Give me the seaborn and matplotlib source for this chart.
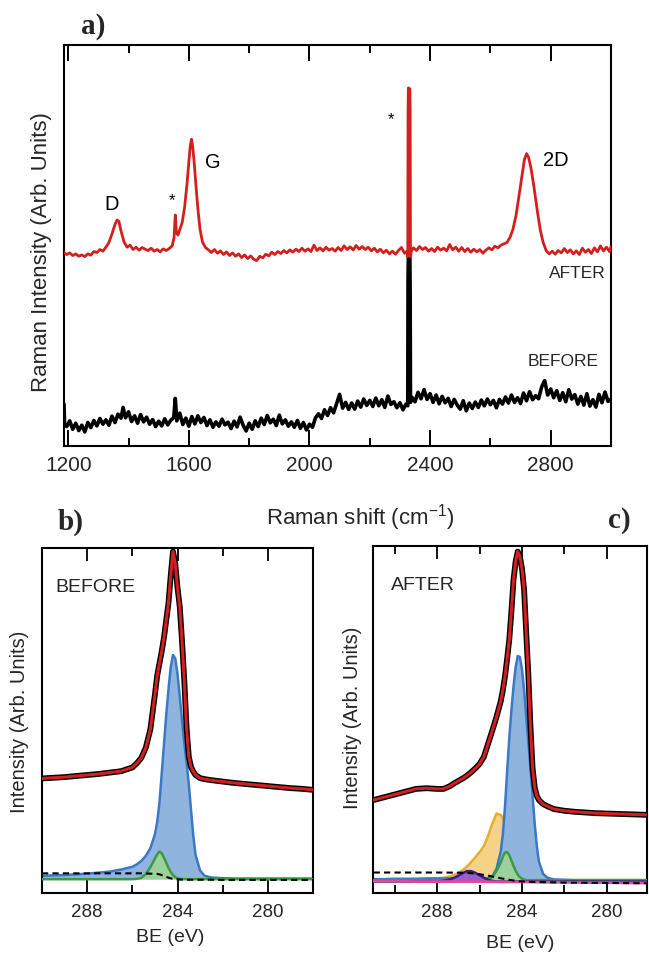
import numpy as np
import matplotlib
matplotlib.use("Agg")
import matplotlib.pyplot as plt
import seaborn as sns
from matplotlib.ticker import MultipleLocator

# ---------------- DATA ----------------
# Panel a: Raman spectra (arbitrary units)
raman_x_after = [1186, 1195, 1205, 1215, 1225, 1235, 1245, 1255, 1265, 1275, 1285, 1295, 1305, 1315,
                 1325, 1335, 1345, 1355, 1362, 1368, 1375, 1385, 1395, 1405, 1415, 1425, 1435, 1445,
                 1455, 1465, 1475, 1485, 1495, 1505, 1515, 1525, 1535, 1545, 1551, 1555, 1559, 1564,
                 1570, 1578, 1586, 1594, 1600, 1605, 1609, 1613, 1618, 1624, 1630, 1637, 1645, 1655,
                 1665, 1675, 1685, 1695, 1705, 1715, 1725, 1735, 1745, 1755, 1765, 1775, 1785, 1795,
                 1805, 1815, 1825, 1835, 1845, 1855, 1865, 1875, 1885, 1895, 1905, 1915, 1925, 1935,
                 1945, 1955, 1965, 1975, 1985, 1995, 2005, 2015, 2025, 2035, 2045, 2055, 2065, 2075,
                 2085, 2095, 2105, 2115, 2125, 2135, 2145, 2155, 2165, 2175, 2185, 2195, 2205, 2215,
                 2225, 2235, 2245, 2255, 2265, 2275, 2285, 2295, 2305, 2315, 2322, 2326, 2327, 2328,
                 2333, 2334, 2335, 2338, 2345, 2355, 2365, 2375, 2385, 2395, 2405, 2415, 2425, 2435,
                 2445, 2455, 2465, 2475, 2485, 2495, 2505, 2515, 2525, 2535, 2545, 2555, 2565, 2575,
                 2585, 2595, 2605, 2615, 2625, 2635, 2645, 2655, 2665, 2675, 2685, 2695, 2705, 2713,
                 2720, 2727, 2735, 2743, 2750, 2758, 2766, 2775, 2785, 2795, 2805, 2815, 2825, 2835,
                 2845, 2855, 2865, 2875, 2885, 2895, 2905, 2915, 2925, 2935, 2945, 2955, 2965, 2975,
                 2985, 2995, 3000]
raman_y_after = [38.0, 37.4, 37.9, 37.1, 37.6, 36.9, 37.3, 36.8, 37.6, 37.2, 38.3, 38.0, 38.9, 38.4,
                 39.6, 41.0, 43.5, 46.4, 47.7, 47.3, 44.5, 41.2, 39.6, 40.2, 38.9, 39.6, 38.7, 39.5,
                 39.0, 38.6, 39.3, 38.4, 38.9, 38.2, 39.1, 38.6, 39.2, 40.0, 42.5, 49.2, 44.0, 43.2,
                 44.8, 47.0, 51.5, 58.5, 65.0, 70.0, 71.8, 69.5, 64.5, 57.5, 51.0, 45.0, 41.2, 39.5,
                 38.8, 38.0, 38.9, 37.8, 38.5, 37.4, 38.2, 37.1, 37.9, 36.9, 37.6, 36.5, 37.3, 36.2,
                 37.0, 36.0, 35.6, 36.9, 36.4, 37.5, 37.0, 38.1, 37.4, 38.3, 37.7, 38.6, 37.9, 38.8,
                 38.1, 39.0, 38.3, 39.3, 38.4, 39.1, 38.3, 40.2, 38.6, 39.4, 38.5, 39.6, 38.7, 39.2,
                 38.4, 39.5, 38.6, 40.0, 38.9, 39.7, 38.8, 40.1, 39.0, 39.8, 38.9, 39.6, 38.5, 39.3,
                 38.2, 39.0, 37.9, 38.7, 37.6, 38.4, 37.5, 38.6, 39.5, 37.8, 38.3, 36.8, 80.0, 87.1,
                 86.8, 80.0, 36.8, 38.5, 39.4, 38.6, 39.8, 38.9, 39.5, 38.4, 39.2, 38.3, 39.6, 38.7,
                 39.3, 38.5, 40.4, 38.8, 39.6, 38.4, 39.5, 38.3, 39.2, 38.1, 39.0, 38.2, 38.9, 37.8,
                 38.7, 39.4, 38.8, 39.9, 39.4, 40.2, 40.6, 41.0, 42.5, 45.0, 49.0, 55.0, 61.0, 65.8,
                 67.5, 66.3, 63.0, 58.5, 54.0, 49.0, 44.5, 41.0, 38.6, 37.6, 38.4, 37.5, 38.6, 37.9,
                 39.2, 38.0, 38.8, 37.6, 38.5, 37.4, 39.3, 38.1, 38.9, 37.7, 39.4, 38.2, 40.0, 38.5,
                 39.6, 38.3, 39.8]

raman_x_before = [1186, 1188, 1195, 1205, 1215, 1225, 1235, 1245, 1255, 1265, 1275, 1285, 1295, 1305,
                  1315, 1325, 1335, 1345, 1355, 1365, 1375, 1382, 1390, 1400, 1410, 1420, 1430, 1440,
                  1450, 1460, 1470, 1480, 1490, 1500, 1510, 1520, 1530, 1540, 1550, 1555, 1560, 1570,
                  1580, 1590, 1600, 1610, 1620, 1630, 1640, 1650, 1660, 1670, 1680, 1690, 1700, 1710,
                  1720, 1730, 1740, 1750, 1760, 1770, 1780, 1790, 1800, 1810, 1820, 1830, 1840, 1850,
                  1860, 1870, 1880, 1890, 1900, 1910, 1920, 1930, 1940, 1950, 1960, 1970, 1980, 1990,
                  2000, 2010, 2020, 2030, 2040, 2050, 2060, 2070, 2080, 2090, 2100, 2110, 2120, 2130,
                  2140, 2150, 2160, 2170, 2180, 2190, 2200, 2210, 2220, 2230, 2240, 2250, 2260, 2270,
                  2280, 2290, 2300, 2310, 2320, 2326, 2327, 2328, 2333, 2334, 2335, 2340, 2350, 2360,
                  2370, 2380, 2390, 2400, 2410, 2420, 2430, 2440, 2450, 2460, 2470, 2480, 2490, 2500,
                  2510, 2520, 2530, 2540, 2550, 2560, 2570, 2580, 2590, 2600, 2610, 2620, 2630, 2640,
                  2650, 2660, 2670, 2680, 2690, 2700, 2710, 2720, 2730, 2740, 2750, 2760, 2770, 2780,
                  2790, 2800, 2810, 2820, 2830, 2840, 2850, 2860, 2870, 2880, 2890, 2900, 2910, 2920,
                  2930, 2940, 2950, 2960, 2970, 2980, 2990, 3000]
raman_y_before = [12.5, 6.5, 5.8, 7.5, 5.0, 6.8, 4.6, 6.2, 4.2, 7.0, 5.5, 7.6, 6.0, 8.2,
                  6.5, 7.8, 6.2, 8.9, 7.0, 9.5, 8.3, 11.5, 8.4, 10.2, 7.3, 9.0, 6.8, 9.4,
                  7.2, 8.6, 6.5, 7.9, 5.8, 7.4, 6.0, 8.1, 6.3, 7.7, 8.5, 14.2, 7.5, 9.8,
                  6.4, 8.3, 5.9, 8.8, 6.6, 9.0, 7.0, 8.5, 6.1, 7.8, 5.6, 7.2, 5.9, 8.0,
                  6.3, 7.1, 5.2, 7.4, 5.7, 8.6, 6.2, 4.5, 6.8, 5.0, 7.5, 5.8, 8.3, 6.4,
                  9.1, 6.9, 8.0, 6.1, 9.2, 6.6, 7.8, 5.9, 7.2, 5.6, 7.6, 5.3, 7.0, 4.8,
                  6.5, 5.6, 8.4, 9.6, 8.2, 10.8, 9.1, 11.4, 9.9, 12.6, 15.4, 11.3, 13.0, 10.9,
                  12.8, 11.0, 13.4, 11.6, 14.0, 12.1, 13.6, 11.8, 14.3, 12.0, 13.8, 11.5, 14.9, 12.4,
                  13.2, 11.4, 12.9, 10.8, 12.5, 12.0, 50.0, 56.5, 56.0, 45.0, 13.0, 14.5, 13.2, 16.0,
                  14.1, 16.8, 13.9, 15.6, 13.0, 15.2, 12.6, 14.8, 12.9, 14.2, 11.8, 13.9, 12.2, 11.0,
                  13.5, 10.5, 12.8, 11.2, 13.1, 11.5, 13.7, 12.0, 14.0, 12.3, 13.6, 11.4, 13.9, 12.5,
                  14.6, 12.8, 15.2, 13.0, 14.4, 12.7, 15.8, 13.5, 16.2, 13.8, 15.0, 14.1, 17.6, 19.5,
                  15.2, 17.0, 14.4, 16.5, 13.6, 15.9, 13.2, 16.8, 14.0, 15.3, 12.5, 14.8, 12.2, 15.6,
                  11.9, 13.8, 11.6, 15.4, 12.9, 16.1, 13.3, 14.0]

raman_ticks = [1200, 1600, 2000, 2400, 2800]
peak_labels = ["D", "*", "G", "*", "2D"]
peak_label_x = [1344, 1543, 1679, 2271, 2816]

# Panel b: C1s XPS, BEFORE
be_b = [290.0, 289.5, 289.0, 288.5, 288.0, 287.5, 287.0, 286.5, 286.0, 285.8, 285.6, 285.4, 285.2,
        285.0, 284.9, 284.8, 284.7, 284.6, 284.5, 284.4, 284.3, 284.2, 284.1, 284.0, 283.9, 283.8,
        283.7, 283.6, 283.5, 283.4, 283.3, 283.2, 283.0, 282.8, 282.5, 282.0, 281.5, 281.0, 280.5,
        280.0, 279.5, 279.0, 278.5, 278.0]
env_b = [33.2, 33.4, 33.6, 33.9, 34.2, 34.5, 34.9, 35.3, 36.4, 37.6, 39.2, 42.2, 47.5,
         57.5, 63.0, 66.5, 70.0, 74.0, 79.0, 84.0, 92.0, 99.0, 95.5, 88.5, 83.0, 73.0,
         61.7, 48.0, 39.5, 36.5, 35.2, 34.2, 33.3, 33.0, 32.7, 32.3, 31.9, 31.6, 31.3,
         31.0, 30.7, 30.4, 30.2, 29.9]
csp2_b = [5.0, 5.1, 5.2, 5.4, 5.6, 5.9, 6.2, 6.8, 7.6, 8.3, 9.3, 10.8, 13.0,
          17.0, 20.5, 26.0, 34.5, 43.0, 51.5, 59.0, 65.5, 69.0, 68.0, 63.5, 57.0, 50.0,
          43.5, 38.0, 31.5, 24.0, 16.5, 11.0, 6.5, 5.0, 4.5, 4.3, 4.2, 4.2, 4.2,
          4.2, 4.2, 4.2, 4.2, 4.2]
csp3_b = [4.0, 4.0, 4.0, 4.0, 4.0, 4.0, 4.0, 4.0, 4.0, 4.1, 4.4, 5.5, 7.5,
          10.0, 11.2, 12.0, 11.5, 10.3, 8.8, 7.3, 6.1, 5.2, 4.6, 4.3, 4.1, 4.0,
          4.0, 4.0, 4.0, 4.0, 4.0, 4.0, 4.0, 4.0, 4.0, 4.0, 4.0, 4.0, 4.0,
          4.0, 4.0, 4.0, 4.0, 4.0]
bkg_b = [5.7, 5.7, 5.7, 5.7, 5.7, 5.7, 5.7, 5.7, 5.7, 5.7, 5.7, 5.65, 5.6,
         5.6, 5.55, 5.4, 5.2, 4.95, 4.7, 4.45, 4.25, 4.1, 4.0, 3.95, 3.9, 3.9,
         3.85, 3.85, 3.85, 3.85, 3.85, 3.85, 3.85, 3.85, 3.85, 3.8, 3.8, 3.8, 3.8,
         3.8, 3.8, 3.8, 3.8, 3.8]

# Panel c: C1s XPS, AFTER
be_c = [291.0, 290.5, 290.0, 289.5, 289.0, 288.5, 288.0, 287.7, 287.4, 287.2, 287.0, 286.8, 286.6,
        286.4, 286.2, 286.0, 285.8, 285.6, 285.4, 285.2, 285.0, 284.9, 284.8, 284.7, 284.6, 284.5,
        284.4, 284.3, 284.2, 284.1, 284.0, 283.9, 283.8, 283.7, 283.6, 283.5, 283.4, 283.3, 283.2,
        283.0, 282.8, 282.5, 282.0, 281.5, 281.0, 280.5, 280.0, 279.5, 279.0, 278.5, 278.0]
env_c = [26.8, 27.6, 28.4, 29.2, 30.0, 30.2, 30.0, 30.0, 30.8, 31.6, 32.3, 33.0, 33.8,
         34.8, 35.9, 37.2, 39.2, 43.0, 46.8, 50.8, 55.3, 58.5, 62.5, 67.5, 73.0, 81.0,
         90.2, 95.5, 98.4, 97.0, 93.5, 87.5, 75.0, 63.0, 48.0, 36.0, 30.5, 28.0, 26.8,
         25.6, 25.0, 24.2, 23.7, 23.4, 23.2, 23.0, 22.9, 22.8, 22.7, 22.6, 22.5]
csp2_c = [4.0, 4.0, 4.1, 4.1, 4.1, 4.2, 4.2, 4.2, 4.2, 4.2, 4.2, 4.2, 4.2,
          4.2, 4.2, 4.2, 4.2, 4.3, 4.8, 7.0, 12.0, 17.0, 25.0, 35.0, 44.5, 52.5,
          59.5, 65.0, 68.3, 68.0, 64.5, 58.5, 51.0, 43.5, 36.0, 28.0, 20.0, 13.5, 9.0,
          5.5, 4.4, 3.9, 3.8, 3.7, 3.7, 3.7, 3.7, 3.7, 3.7, 3.7, 3.7]
coh_c = [3.7, 3.7, 3.8, 3.8, 3.9, 4.0, 4.2, 4.4, 4.8, 5.2, 5.8, 6.6, 7.6,
         8.9, 10.3, 11.8, 13.5, 16.5, 20.0, 22.9, 22.5, 21.5, 20.0, 18.3, 16.5, 14.6,
         12.8, 11.0, 9.5, 8.2, 7.1, 6.2, 5.5, 5.0, 4.6, 4.3, 4.1, 4.0, 3.9,
         3.8, 3.7, 3.7, 3.7, 3.7, 3.7, 3.7, 3.7, 3.7, 3.7, 3.7, 3.7]
csp3_c = [3.7, 3.7, 3.7, 3.7, 3.7, 3.7, 3.7, 3.7, 3.7, 3.7, 3.7, 3.7, 3.7,
          3.7, 3.7, 3.7, 3.7, 3.9, 4.6, 6.4, 8.8, 10.5, 11.7, 11.8, 10.9, 9.4,
          7.8, 6.4, 5.3, 4.6, 4.1, 3.9, 3.7, 3.7, 3.7, 3.7, 3.7, 3.7, 3.7,
          3.7, 3.7, 3.7, 3.7, 3.7, 3.7, 3.7, 3.7, 3.7, 3.7, 3.7, 3.7]
co_c = [3.3, 3.3, 3.3, 3.3, 3.3, 3.3, 3.3, 3.5, 3.9, 4.4, 5.0, 5.7, 6.3,
        6.3, 5.8, 5.1, 4.4, 3.8, 3.5, 3.3, 3.3, 3.3, 3.3, 3.3, 3.3, 3.3,
        3.3, 3.3, 3.3, 3.3, 3.3, 3.3, 3.3, 3.3, 3.3, 3.3, 3.3, 3.3, 3.3,
        3.3, 3.3, 3.3, 3.3, 3.3, 3.3, 3.3, 3.3, 3.3, 3.3, 3.3, 3.3]
pink_x_c = [291, 290, 289, 288, 287, 286, 285, 284, 283, 282, 281, 280, 279, 278]
pink_y_c = [3.4, 3.4, 3.3, 3.3, 3.3, 3.3, 3.2, 3.2, 3.1, 3.1, 3.0, 3.0, 2.9, 2.9]
bkg_x_c = [291, 288, 286.8, 286.4, 286.0, 285.6, 285.2, 284.8, 284.4, 284.1, 283.5, 282, 280, 278]
bkg_y_c = [5.9, 5.9, 5.85, 5.7, 5.4, 5.0, 4.5, 4.0, 3.6, 3.35, 3.2, 3.0, 2.9, 2.8]

xps_ticks = [288, 284, 280]

# ---------------- STYLE / LAYOUT ----------------
sns.set_theme(style="ticks")
plt.rcParams["font.family"] = ["Liberation Sans", "DejaVu Sans"]
plt.rcParams["mathtext.fontset"] = "custom"
plt.rcParams["mathtext.rm"] = "Liberation Sans"
plt.rcParams["mathtext.it"] = "Liberation Sans:italic"

W, H = 649, 958
fig = plt.figure(figsize=(W / 100, H / 100), dpi=100)


def rect(l, t, r, b):
    return [l / W, 1 - b / H, (r - l) / W, (b - t) / H]


def ftxt(px, py, s, **kw):
    fig.text(px / W, 1 - py / H, s, **kw)


ax_a = fig.add_axes(rect(64, 45, 611, 446))
ax_b = fig.add_axes(rect(42, 548, 313, 893))
ax_c = fig.add_axes(rect(373, 546, 647, 893))

RED = "#d41f1f"
AFTER_OFFSET = 19.7

# ---- panel a ----
sns.lineplot(x=raman_x_before, y=raman_y_before, ax=ax_a, color="black", linewidth=2.6,
             sort=False, estimator=None, zorder=3)
sns.lineplot(x=raman_x_after, y=np.array(raman_y_after) + AFTER_OFFSET, ax=ax_a, color=RED,
             linewidth=2.0, sort=False, estimator=None, zorder=4)
ax_a.set_xlim(1186, 3000)
ax_a.set_ylim(0, 119.6)
ax_a.set_xticks(raman_ticks)
ax_a.xaxis.set_minor_locator(MultipleLocator(200))
ax_a.set_yticks([])
ax_a.tick_params(axis="x", which="both", direction="in", top=True, bottom=True,
                 width=1.4, color="black", labelsize=15, pad=7)
ax_a.tick_params(axis="x", which="major", length=11.5)
ax_a.tick_params(axis="x", which="minor", length=6)
ax_a.set_xlabel("")
ax_a.set_ylabel("")

tr = ax_a.get_xaxis_transform()
label_yfrac = [0.601, 0.612, 0.706, 0.815, 0.711]
label_size = [14.5, 12, 14.5, 12, 14.5]
for s, xv, yv, fs in zip(peak_labels, peak_label_x, label_yfrac, label_size):
    ax_a.text(xv, yv, s, transform=tr, ha="center", va="center", fontsize=fs, color="black")
ax_a.text(2983, 0.429, "AFTER", transform=tr, ha="right", va="center", fontsize=12.5)
ax_a.text(2958, 0.21, "BEFORE", transform=tr, ha="right", va="center", fontsize=12.5)


# ---- XPS panels ----
def component(ax, x, y, line, fill, z, lw=1.8):
    ax.fill_between(x, y, min(y), color=fill, linewidth=0, zorder=z)
    sns.lineplot(x=x, y=y, ax=ax, color=line, linewidth=lw, sort=False, estimator=None,
                 zorder=z + 0.5)


# b
component(ax_b, be_b, csp2_b, "#3b78c6", "#8fb5df", 2)
component(ax_b, be_b, csp3_b, "#3b9a44", "#9dd09b", 3)
sns.lineplot(x=be_b, y=bkg_b, ax=ax_b, color="black", linewidth=1.5, linestyle=(0, (3, 2)),
             sort=False, estimator=None, zorder=6)
sns.lineplot(x=be_b, y=env_b, ax=ax_b, color="black", linewidth=4.2, sort=False,
             estimator=None, zorder=8)
sns.lineplot(x=be_b, y=env_b, ax=ax_b, color=RED, linewidth=2.2, sort=False,
             estimator=None, zorder=9)
ax_b.set_xlim(290.0, 278.0)

# c
component(ax_c, be_c, coh_c, "#e8ad2e", "#f4d386", 1)
component(ax_c, be_c, csp2_c, "#3b78c6", "#8fb5df", 2)
component(ax_c, be_c, csp3_c, "#3b9a44", "#9dd09b", 3)
component(ax_c, be_c, co_c, "#3a1a8a", "#9b5ec8", 4)
sns.lineplot(x=pink_x_c, y=pink_y_c, ax=ax_c, color="#e0489c", linewidth=2.0, sort=False,
             estimator=None, zorder=5)
sns.lineplot(x=bkg_x_c, y=bkg_y_c, ax=ax_c, color="black", linewidth=1.5, linestyle=(0, (3, 2)),
             sort=False, estimator=None, zorder=6)
sns.lineplot(x=be_c, y=env_c, ax=ax_c, color="black", linewidth=4.2, sort=False,
             estimator=None, zorder=8)
sns.lineplot(x=be_c, y=env_c, ax=ax_c, color=RED, linewidth=2.2, sort=False,
             estimator=None, zorder=9)
ax_c.set_xlim(291.03, 278.1)

for ax in (ax_b, ax_c):
    ax.set_ylim(0, 100)
    ax.set_xticks(xps_ticks)
    ax.xaxis.set_minor_locator(MultipleLocator(2))
    ax.set_yticks([])
    ax.tick_params(axis="x", which="both", direction="in", top=True, bottom=True,
                   width=1.3, color="black", labelsize=13.5, pad=8)
    ax.tick_params(axis="x", which="major", length=9.5)
    ax.tick_params(axis="x", which="minor", length=5.5)
    ax.set_xlabel("")
    ax.set_ylabel("")

for ax in (ax_a, ax_b, ax_c):
    for sp in ax.spines.values():
        sp.set_linewidth(1.5)
        sp.set_color("black")
    ax.set_facecolor("white")

ax_b.text(0.05, 0.885, "BEFORE", transform=ax_b.transAxes, ha="left", va="center", fontsize=14)
ax_c.text(0.065, 0.885, "AFTER", transform=ax_c.transAxes, ha="left", va="center", fontsize=14)

# ---- figure texts ----
serif = ["Liberation Serif", "DejaVu Serif"]
ftxt(81, 27, "a)", family=serif, fontweight="bold", fontsize=21, ha="left", va="center")
ftxt(58, 522, "b)", family=serif, fontweight="bold", fontsize=21, ha="left", va="center")
ftxt(608, 520, "c)", family=serif, fontweight="bold", fontsize=21, ha="left", va="center")
ftxt(360, 518, r"Raman shift (cm$^{\mathregular{-1}}$)", fontsize=16, ha="center", va="center")
ftxt(42, 252, "Raman Intensity (Arb. Units)", fontsize=16, rotation=90, ha="center", va="center")
ftxt(20, 722, "Intensity (Arb. Units)", fontsize=14.5, rotation=90, ha="center", va="center")
ftxt(352, 718, "Intensity (Arb. Units)", fontsize=14.5, rotation=90, ha="center", va="center")
ftxt(170, 938, "BE (eV)", fontsize=14, ha="center", va="center")
ftxt(520, 944, "BE (eV)", fontsize=14, ha="center", va="center")

fig.savefig("out.png", dpi=100, facecolor="white")
